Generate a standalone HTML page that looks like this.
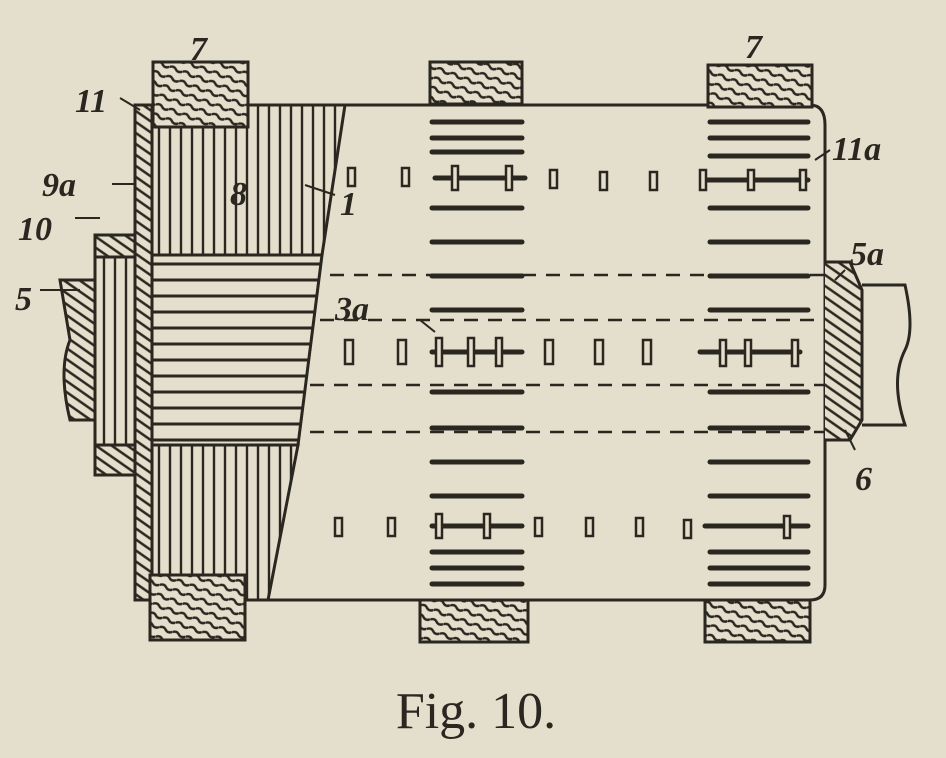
<!DOCTYPE html>
<html><head><style>
html,body{margin:0;padding:0;background:#e4dfcc;}
svg{display:block}
</style></head><body>
<svg width="946" height="758" viewBox="0 0 946 758" xmlns="http://www.w3.org/2000/svg">
<defs>
<pattern id="vl" width="11" height="10" patternUnits="userSpaceOnUse"><rect width="11" height="10" fill="#e4dfcc"/><line x1="5" y1="0" x2="5" y2="10" stroke="#2a2620" stroke-width="2.4"/></pattern>
<pattern id="hl" width="10" height="16" patternUnits="userSpaceOnUse"><rect width="10" height="16" fill="#e4dfcc"/><line x1="0" y1="8" x2="10" y2="8" stroke="#2a2620" stroke-width="3"/></pattern>
<pattern id="dg" width="9" height="9" patternUnits="userSpaceOnUse" patternTransform="rotate(35)"><rect width="9" height="9" fill="#e4dfcc"/><line x1="0" y1="4" x2="9" y2="4" stroke="#2a2620" stroke-width="2.5"/></pattern>
<pattern id="wd" width="14" height="10" patternUnits="userSpaceOnUse" patternTransform="rotate(20)"><rect width="14" height="10" fill="#e4dfcc"/><path d="M0 5 Q4 2 7 5 T14 5" stroke="#2a2620" stroke-width="2.4" fill="none"/></pattern>
</defs>
<g stroke="#2a2620" stroke-width="3" fill="none">
<path d="M268 105 L810 105 Q825 105 825 125 L825 585 Q825 600 810 600 L268 600"/>
<path d="M152 105 L345 105 L322 255 L152 255 Z" fill="url(#vl)"/>
<path d="M152 445 L298 445 L268 600 L152 600 Z" fill="url(#vl)"/>
<path d="M135 255 L322 255 L298 445 L135 445 Z" fill="url(#hl)"/>
<rect x="135" y="105" width="17" height="495" fill="url(#dg)"/>
<rect x="95" y="255" width="40" height="190" fill="url(#vl)"/>
<rect x="95" y="235" width="40" height="22" fill="url(#dg)"/>
<rect x="95" y="445" width="40" height="30" fill="url(#dg)"/>
<path d="M60 280 L95 280 L95 420 L70 420 Q58 370 70 340 Z" fill="url(#dg)"/>
<rect x="153" y="62" width="95" height="65" fill="url(#wd)"/>
<rect x="430" y="62" width="92" height="42" fill="url(#wd)"/>
<rect x="708" y="65" width="104" height="42" fill="url(#wd)"/>
<rect x="150" y="575" width="95" height="65" fill="url(#wd)"/>
<rect x="420" y="600" width="108" height="42" fill="url(#wd)"/>
<rect x="705" y="600" width="105" height="42" fill="url(#wd)"/>
<path d="M825 262 L850 262 L862 290 L862 420 L850 440 L825 440" fill="url(#dg)"/>
<path d="M862 285 L905 285 Q915 330 905 350 Q890 380 905 425 L862 425"/>
</g>
<g stroke="#2a2620" stroke-width="5" stroke-linecap="round">
<line x1="432" y1="122" x2="522" y2="122"/><line x1="432" y1="138" x2="522" y2="138"/><line x1="432" y1="152" x2="522" y2="152"/>
<line x1="432" y1="208" x2="522" y2="208"/><line x1="432" y1="242" x2="522" y2="242"/><line x1="432" y1="276" x2="522" y2="276"/>
<line x1="432" y1="310" x2="522" y2="310"/><line x1="432" y1="392" x2="522" y2="392"/><line x1="432" y1="428" x2="522" y2="428"/>
<line x1="432" y1="462" x2="522" y2="462"/><line x1="432" y1="496" x2="522" y2="496"/><line x1="432" y1="552" x2="522" y2="552"/>
<line x1="432" y1="568" x2="522" y2="568"/><line x1="432" y1="584" x2="522" y2="584"/>
<line x1="710" y1="122" x2="808" y2="122"/><line x1="710" y1="138" x2="808" y2="138"/><line x1="710" y1="156" x2="808" y2="156"/>
<line x1="710" y1="208" x2="808" y2="208"/><line x1="710" y1="242" x2="808" y2="242"/><line x1="710" y1="276" x2="808" y2="276"/>
<line x1="710" y1="310" x2="808" y2="310"/><line x1="710" y1="392" x2="808" y2="392"/><line x1="710" y1="428" x2="808" y2="428"/>
<line x1="710" y1="462" x2="808" y2="462"/><line x1="710" y1="496" x2="808" y2="496"/><line x1="710" y1="552" x2="808" y2="552"/>
<line x1="710" y1="568" x2="808" y2="568"/><line x1="710" y1="584" x2="808" y2="584"/>
<line x1="435" y1="178" x2="525" y2="178"/><line x1="702" y1="180" x2="808" y2="180"/>
<line x1="432" y1="352" x2="522" y2="352"/><line x1="700" y1="352" x2="800" y2="352"/>
<line x1="432" y1="526" x2="522" y2="526"/><line x1="705" y1="526" x2="808" y2="526"/>
</g>
<g fill="#e4dfcc" stroke="#2a2620" stroke-width="2.5">
<rect x="348" y="168" width="7" height="18"/><rect x="402" y="168" width="7" height="18"/><rect x="550" y="170" width="7" height="18"/><rect x="600" y="172" width="7" height="18"/><rect x="650" y="172" width="7" height="18"/>
<rect x="452" y="166" width="6" height="24"/><rect x="506" y="166" width="6" height="24"/><rect x="700" y="170" width="6" height="20"/><rect x="748" y="170" width="6" height="20"/><rect x="800" y="170" width="6" height="20"/>
<rect x="345" y="340" width="8" height="24"/><rect x="398" y="340" width="8" height="24"/><rect x="545" y="340" width="8" height="24"/><rect x="595" y="340" width="8" height="24"/><rect x="643" y="340" width="8" height="24"/>
<rect x="436" y="338" width="6" height="28"/><rect x="468" y="338" width="6" height="28"/><rect x="496" y="338" width="6" height="28"/><rect x="720" y="340" width="6" height="26"/><rect x="745" y="340" width="6" height="26"/><rect x="792" y="340" width="6" height="26"/>
<rect x="335" y="518" width="7" height="18"/><rect x="388" y="518" width="7" height="18"/><rect x="535" y="518" width="7" height="18"/><rect x="586" y="518" width="7" height="18"/><rect x="636" y="518" width="7" height="18"/><rect x="684" y="520" width="7" height="18"/>
<rect x="436" y="514" width="6" height="24"/><rect x="484" y="514" width="6" height="24"/><rect x="784" y="516" width="6" height="22"/>
</g>
<g stroke="#2a2620" stroke-width="2.5" stroke-dasharray="14 10">
<line x1="330" y1="275" x2="825" y2="275"/><line x1="320" y1="320" x2="825" y2="320"/>
<line x1="310" y1="385" x2="825" y2="385"/><line x1="310" y1="432" x2="825" y2="432"/>
</g>
<g stroke="#2a2620" stroke-width="2" fill="none">
<line x1="120" y1="98" x2="140" y2="110"/><line x1="112" y1="184" x2="135" y2="184"/>
<line x1="75" y1="218" x2="100" y2="218"/><line x1="40" y1="290" x2="80" y2="290"/>
<line x1="305" y1="185" x2="335" y2="195"/><line x1="830" y1="150" x2="815" y2="160"/>
<line x1="420" y1="320" x2="435" y2="332"/><line x1="835" y1="280" x2="845" y2="270"/>
<line x1="855" y1="450" x2="845" y2="430"/>
</g>
<g font-family="Liberation Serif, serif" font-style="italic" font-weight="bold" fill="#2a2620" font-size="34">
<text x="190" y="60">7</text><text x="745" y="58">7</text>
<text x="75" y="112">11</text><text x="42" y="196">9a</text><text x="18" y="240">10</text>
<text x="15" y="310">5</text><text x="230" y="205">8</text><text x="340" y="215">1</text>
<text x="832" y="160">11a</text><text x="850" y="265">5a</text><text x="335" y="320">3a</text>
<text x="855" y="490">6</text>
</g>
<text x="476" y="728" text-anchor="middle" font-family="Liberation Serif, serif" font-size="52" fill="#2a2620">Fig. 10.</text>
</svg>
</body></html>
